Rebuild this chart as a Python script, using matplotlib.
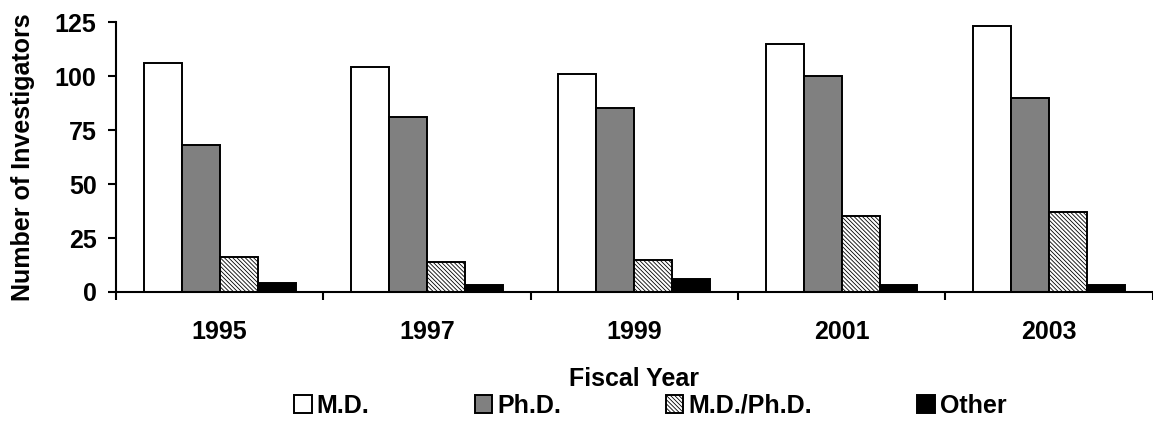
import matplotlib.pyplot as plt
import numpy as np

plt.rcParams['font.family'] = ['Liberation Sans', 'DejaVu Sans']
plt.rcParams['font.weight'] = 'bold'
plt.rcParams['hatch.linewidth'] = 0.6

years = ['1995', '1997', '1999', '2001', '2003']
md = [106, 104, 101, 115, 123]
phd = [68, 81, 85, 100, 90]
md_phd = [16, 14, 15, 35, 37]
other = [4, 3, 6, 3, 3]

fig = plt.figure(figsize=(11.53, 4.25), dpi=100)
ax = fig.add_axes([0.1006, 0.313, 0.899, 0.635])

x = np.arange(len(years))
w = 0.183
ax.bar(x - 1.5 * w, md, w, color='white', edgecolor='black', linewidth=1.4, label='M.D.')
ax.bar(x - 0.5 * w, phd, w, color='#808080', edgecolor='black', linewidth=1.4, label='Ph.D.')
ax.bar(x + 0.5 * w, md_phd, w, color='white', edgecolor='black', linewidth=1.4,
       hatch='\\\\\\\\\\\\\\\\', label='M.D./Ph.D.')
ax.bar(x + 1.5 * w, other, w, color='black', edgecolor='black', linewidth=1.4, label='Other')

ax.set_xlim(-0.5, len(years) - 0.5)
ax.set_ylim(0, 125)
ax.set_yticks([0, 25, 50, 75, 100, 125])
ax.set_xticks(x)
ax.set_xticklabels(years)
ax.set_xticks(np.arange(len(years) + 1) - 0.5, minor=True)
ax.tick_params(axis='x', which='major', length=0, pad=20, labelsize=18)
ax.tick_params(axis='x', which='minor', length=6, width=1.5, direction='out')
ax.tick_params(axis='y', length=6, width=1.5, pad=8, labelsize=18)

for s in ['top', 'right']:
    ax.spines[s].set_visible(False)
for s in ['left', 'bottom']:
    ax.spines[s].set_linewidth(1.5)

ax.set_xlabel('Fiscal Year', fontsize=18, fontweight='bold', labelpad=17)
ax.set_ylabel('Number of Investigators', fontsize=18, fontweight='bold', labelpad=14)

fig.legend(loc='center', bbox_to_anchor=(0.564, 0.045), ncol=4, frameon=False,
           fontsize=18, handlelength=0.7, handleheight=0.7, handletextpad=0.2,
           columnspacing=4.2, borderpad=0)

plt.savefig('out.png', dpi=100)
